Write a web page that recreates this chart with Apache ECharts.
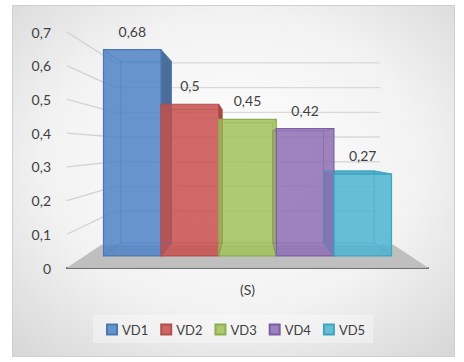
<!DOCTYPE html>
<html><head><meta charset="utf-8">
<script src="https://cdn.jsdelivr.net/npm/echarts@6/dist/echarts.min.js"></script>
<style>html,body{margin:0;padding:0;background:#fff}#c{width:464px;height:362px}</style>
</head><body><div id="c"></div>
<script>
// ---- data ----
const categories = ['(S)'];
const seriesNames = ['VD1', 'VD2', 'VD3', 'VD4', 'VD5'];
const values = [0.68, 0.5, 0.45, 0.42, 0.27];
const yTicks = [0, 0.1, 0.2, 0.3, 0.4, 0.5, 0.6, 0.7];

// ---- styles ----
const legendColors = ['#6894cc', '#cd6765', '#adc871', '#9d82be', '#66bed5'];
const frontFills = ['rgba(80,132,198,0.86)', 'rgba(199,79,77,0.86)', 'rgba(161,193,91,0.86)', 'rgba(142,111,181,0.86)', 'rgba(78,181,208,0.86)'];
const borders = ['#4a78b5', '#b24f4c', '#8bae4e', '#7b5ea2', '#3fa4be'];
const sides = ['#4b6d98', '#a04644', '#7f9a48', '#6a5490', '#3f93a9'];
const tops = ['#5a86bd', '#bb5754', '#97b65e', '#8a6db0', '#4fb1ca'];
const txt = '#404040';

const BAR_FRAC = 0.1773;   // world width of one bar relative to band
const VP_FRAC = 0.51;      // vanishing point height (fraction of plot height)
const K_FRONT = 0.9, K_BACK = 0.792, K_FLOOR = 0.81, K_WALL = 0.733;

function fmt(v) { return v === 0 ? '0' : String(Number(v.toFixed(2))).replace('.', ','); }

function geom(api) {
  const c0 = api.coord([0, 0]);
  const cTop = api.coord([0, 0.7]);
  const bandW = api.size([1, 0])[0];
  const vx = c0[0];
  const vy = c0[1] - VP_FRAC * (c0[1] - cTop[1]);
  const P = (X, Y, k) => [vx + k * (X - vx), vy + k * (Y - vy)];
  return { c0, bandW, vx, vy, P, xL: vx - bandW / 2, xR: vx + bandW / 2 };
}

function wallRender(params, api) {
  const t = api.value(1);
  const g = geom(api);
  const Y = api.coord([0, t])[1];
  const children = [];
  if (t > 0) {
    const a = g.P(g.xL, Y, 1), b = g.P(g.xL, Y, K_WALL), c = g.P(g.xR, Y, K_WALL);
    children.push({ type: 'line', shape: { x1: a[0], y1: a[1], x2: b[0], y2: b[1] }, style: { stroke: '#d2d2d2', lineWidth: 1.3 }, z2: 1 });
    children.push({ type: 'line', shape: { x1: b[0], y1: b[1], x2: c[0], y2: c[1] }, style: { stroke: '#d9d9d9', lineWidth: 1.3 }, z2: 1 });
  } else {
    const p = [g.P(g.xL, Y, 1), g.P(g.xR, Y, 1), g.P(g.xR, Y, K_FLOOR), g.P(g.xL, Y, K_FLOOR)];
    children.push({ type: 'polygon', shape: { points: p }, style: { fill: '#bfbfbf', stroke: '#b5b5b5', lineWidth: 0.5 }, z2: 2 });
  }
  return { type: 'group', children };
}

function barRender(i) {
  return function (params, api) {
    const v = api.value(1);
    const g = geom(api);
    const P = g.P;
    const wb = g.bandW * BAR_FRAC;
    const XL = g.vx - 2.5 * wb + i * wb, XR = XL + wb;
    const Yv = api.coord([0, v])[1], Y0 = g.c0[1];
    const fTL = P(XL, Yv, K_FRONT), fTR = P(XR, Yv, K_FRONT), fBL = P(XL, Y0, K_FRONT), fBR = P(XR, Y0, K_FRONT);
    const bTL = P(XL, Yv, K_BACK), bTR = P(XR, Yv, K_BACK), bBL = P(XL, Y0, K_BACK), bBR = P(XR, Y0, K_BACK);
    const ch = [];
    if (fTR[0] < g.vx) ch.push({ type: 'polygon', shape: { points: [fTR, bTR, bBR, fBR] }, style: { fill: sides[i], stroke: borders[i], lineWidth: 0.8 }, z2: 3 });
    if (fTL[0] > g.vx) ch.push({ type: 'polygon', shape: { points: [fTL, bTL, bBL, fBL] }, style: { fill: sides[i], stroke: borders[i], lineWidth: 0.8 }, z2: 3 });
    if (fTL[1] > g.vy) ch.push({ type: 'polygon', shape: { points: [fTL, fTR, bTR, bTL] }, style: { fill: tops[i], stroke: borders[i], lineWidth: 0.8 }, z2: 3 });
    ch.push({ type: 'rect', shape: { x: fTL[0], y: fTL[1], width: fTR[0] - fTL[0], height: fBL[1] - fTL[1] }, style: { fill: frontFills[i], stroke: borders[i], lineWidth: 1.2 }, z2: 6 });
    const ln = (a, b) => ({ type: 'line', shape: { x1: a[0], y1: a[1], x2: b[0], y2: b[1] }, style: { stroke: borders[i], lineWidth: 1, opacity: 0.45 }, z2: 7 });
    ch.push(ln(bTL, bTR), ln(bTR, bBR), ln(bBR, bBL), ln(bBL, bTL), ln(fTL, bTL), ln(fTR, bTR), ln(fBL, bBL), ln(fBR, bBR));
    ch.push({ type: 'text', x: (fTL[0] + fTR[0]) / 2, y: fTL[1] - 18.5, style: { text: fmt(v), fill: txt, font: '14px Lato', align: 'center', verticalAlign: 'middle', textAlign: 'center', textVerticalAlign: 'middle' }, z2: 10 });
    return { type: 'group', children: ch };
  };
}

const series = [{
  type: 'custom', name: 'walls', z: 1, silent: true, clip: false,
  data: yTicks.map(t => [0, t]), renderItem: wallRender
}];
seriesNames.forEach((n, i) => {
  series.push({
    type: 'custom', name: n, z: 2, silent: true, clip: false,
    itemStyle: { color: legendColors[i], borderColor: borders[i], borderWidth: 1 },
    data: [[0, values[i]]], renderItem: barRender(i)
  });
});

const chart = echarts.init(document.getElementById('c'), null, { renderer: 'svg' });
chart.setOption({
  animation: false,
  textStyle: { fontFamily: 'Lato' },
  graphic: [{
    type: 'rect', z: -10, silent: true,
    shape: { x: 12.5, y: 5.5, width: 442, height: 351 },
    style: {
      fill: new echarts.graphic.RadialGradient(0.5, 0.45, 0.85, [
        { offset: 0, color: '#ffffff' }, { offset: 0.5, color: '#f2f2f2' }, { offset: 1, color: '#cdcdcd' }
      ]),
      stroke: '#d0d0d0', lineWidth: 1
    }
  }],
  grid: { left: 67, right: 36, top: 32, bottom: 94 },
  legend: {
    data: seriesNames, left: 93, top: 315,
    padding: [8, 8, 7, 13], itemGap: 12, itemWidth: 10, itemHeight: 10,
    icon: 'rect', backgroundColor: 'rgba(255,255,255,0.35)',
    textStyle: { fontSize: 13, color: txt, fontFamily: 'Lato' }
  },
  xAxis: {
    type: 'category', data: categories,
    axisLine: { show: true, lineStyle: { color: '#595959', width: 2 } },
    axisTick: { show: false },
    axisLabel: { margin: 14, fontSize: 14, color: txt, fontFamily: 'Lato' }
  },
  yAxis: {
    type: 'value', min: 0, max: 0.7, interval: 0.1,
    axisLine: { show: false }, axisTick: { show: false }, splitLine: { show: false },
    axisLabel: { margin: 16, fontSize: 14, color: txt, fontFamily: 'Lato', formatter: v => fmt(v) }
  },
  series
});
</script>
</body></html>
